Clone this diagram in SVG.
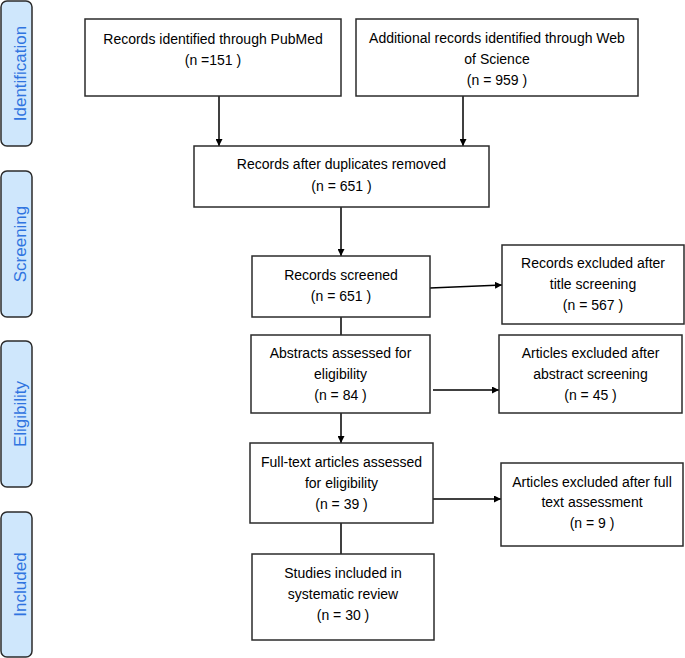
<svg xmlns="http://www.w3.org/2000/svg" width="685" height="658" viewBox="0 0 685 658">
<defs>
<marker id="ah" viewBox="0 0 10 10" refX="10" refY="5" markerWidth="7" markerHeight="7" markerUnits="userSpaceOnUse" orient="auto">
<path d="M0,0 L10,5 L0,10 z" fill="#000"/>
</marker>
<style>
.box{fill:#fff;stroke:#2b2b2b;stroke-width:1.5}
.side{fill:#cfe7fc;stroke:#2b2b2b;stroke-width:1.5}
.t{font-family:"Liberation Sans",Arial,sans-serif;font-size:14px;fill:#000;text-anchor:middle}
.st{font-family:"Liberation Sans",Arial,sans-serif;font-size:17px;fill:#2f74e0;text-anchor:middle}
.c{stroke:#000;stroke-width:1.5;fill:none}
.ca{stroke:#000;stroke-width:1.5;fill:none;marker-end:url(#ah)}
</style>
</defs>
<rect width="685" height="658" fill="#fff"/>

<g id="phase-identification">
<rect class="side" x="1" y="1" width="31" height="145" rx="6"/>
<text class="st" transform="translate(25.5,73.5) rotate(-90)">Identification</text>
</g>
<g id="phase-screening">
<rect class="side" x="1" y="171" width="31" height="146" rx="6"/>
<text class="st" transform="translate(25.5,244) rotate(-90)">Screening</text>
</g>
<g id="phase-eligibility">
<rect class="side" x="1" y="341" width="31" height="146" rx="6"/>
<text class="st" transform="translate(25.5,414) rotate(-90)">Eligibility</text>
</g>
<g id="phase-included">
<rect class="side" x="1" y="512" width="31" height="145" rx="6"/>
<text class="st" transform="translate(25.5,584.5) rotate(-90)">Included</text>
</g>

<g id="connectors">
<line class="ca" x1="219" y1="96" x2="219" y2="146"/>
<line class="ca" x1="463" y1="96" x2="463" y2="146"/>
<line class="ca" x1="341" y1="207" x2="341" y2="256"/>
<line class="c" x1="341" y1="317" x2="341" y2="335"/>
<line class="ca" x1="341" y1="413" x2="341" y2="443"/>
<line class="c" x1="341" y1="523" x2="341" y2="554"/>
<line class="ca" x1="430" y1="288" x2="502" y2="285"/>
<line class="ca" x1="433" y1="390" x2="499" y2="390"/>
<line class="ca" x1="433" y1="499" x2="501" y2="499"/>
</g>

<g id="pubmed">
<rect class="box" x="85" y="19" width="256" height="77"/>
<text class="t" x="213" y="44">Records identified through PubMed</text>
<text class="t" x="213" y="65">(n =151 )</text>
</g>
<g id="wos">
<rect class="box" x="356" y="19" width="282" height="77"/>
<text class="t" x="497" y="43">Additional records identified through Web</text>
<text class="t" x="497" y="64">of Science</text>
<text class="t" x="497" y="85">(n = 959 )</text>
</g>
<g id="duplicates">
<rect class="box" x="194" y="146" width="295" height="61"/>
<text class="t" x="341.5" y="169">Records after duplicates removed</text>
<text class="t" x="341.5" y="191">(n = 651 )</text>
</g>
<g id="screened">
<rect class="box" x="252" y="256" width="178" height="61"/>
<text class="t" x="341" y="280">Records screened</text>
<text class="t" x="341" y="301">(n = 651 )</text>
</g>
<g id="excluded-title">
<rect class="box" x="502" y="245" width="182" height="79"/>
<text class="t" x="593" y="268">Records excluded after</text>
<text class="t" x="593" y="289">title screening</text>
<text class="t" x="593" y="310">(n = 567 )</text>
</g>
<g id="abstracts">
<rect class="box" x="251" y="335" width="179" height="78"/>
<text class="t" x="340.5" y="358">Abstracts assessed for</text>
<text class="t" x="340.5" y="379">eligibility</text>
<text class="t" x="340.5" y="400">(n = 84 )</text>
</g>
<g id="excluded-abstract">
<rect class="box" x="499" y="335" width="183" height="78"/>
<text class="t" x="590.5" y="358">Articles excluded after</text>
<text class="t" x="590.5" y="379">abstract screening</text>
<text class="t" x="590.5" y="400">(n = 45 )</text>
</g>
<g id="fulltext">
<rect class="box" x="250" y="443" width="183" height="80"/>
<text class="t" x="341.5" y="467">Full-text articles assessed</text>
<text class="t" x="341.5" y="488">for eligibility</text>
<text class="t" x="341.5" y="509">(n = 39 )</text>
</g>
<g id="excluded-fulltext">
<rect class="box" x="501" y="463" width="182" height="83"/>
<text class="t" x="592" y="487">Articles excluded after full</text>
<text class="t" x="592" y="507">text assessment</text>
<text class="t" x="592" y="528">(n = 9 )</text>
</g>
<g id="included">
<rect class="box" x="252" y="554" width="182" height="86"/>
<text class="t" x="343" y="578">Studies included in</text>
<text class="t" x="343" y="599">systematic review</text>
<text class="t" x="343" y="620">(n = 30 )</text>
</g>
</svg>
